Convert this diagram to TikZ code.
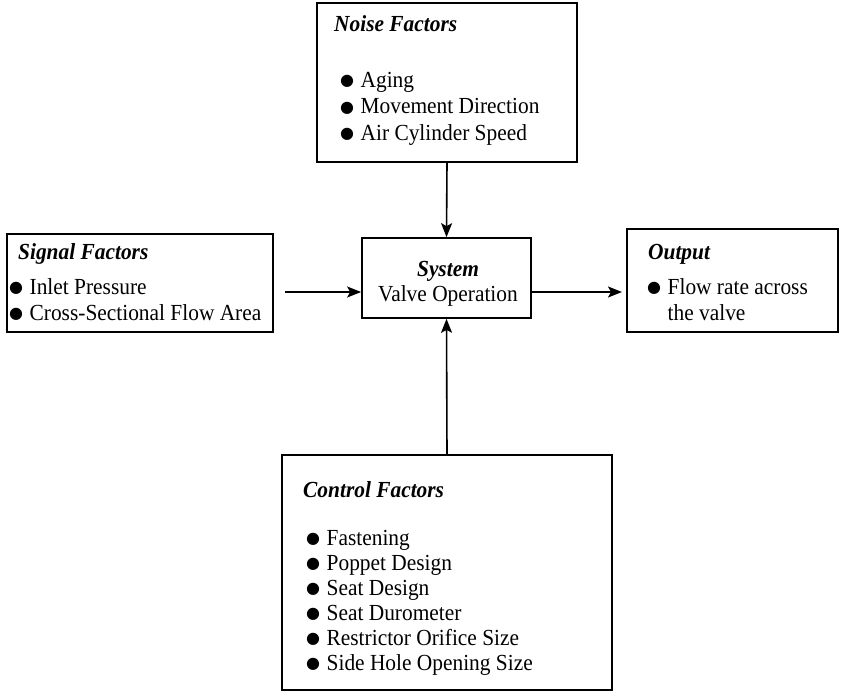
\documentclass[tikz,border=0pt]{standalone}
\usepackage{fontspec}
\setmainfont{Liberation Serif}[FakeStretch=0.93]
\newfontfamily\bulfont{DejaVu Sans}
\usetikzlibrary{arrows.meta}
\newcommand\bul{\raisebox{1.2pt}{\bulfont\fontsize{16}{16}\selectfont ●}\hspace{6.5pt}}
\begin{document}
\begin{tikzpicture}[x=1pt,y=-1pt,
  box/.style={draw, line width=1.7pt, inner sep=0pt},
  txt/.style={anchor=base west, inner sep=0pt, font=\fontsize{23}{27}\selectfont},
  ttl/.style={txt, font=\fontsize{23}{27}\selectfont\bfseries\itshape},
  ctr/.style={anchor=base, inner sep=0pt, font=\fontsize{23}{27}\selectfont},
  arr/.style={line width=1.6pt, -{Stealth[length=14pt,width=11pt,inset=3pt]}}]
\useasboundingbox (0,0) rectangle (844,694);
% boxes
\node[box, minimum width=260pt, minimum height=159pt] (noise) at (447,82.5) {};
\node[box, minimum width=266pt, minimum height=98pt] (signal) at (140,283) {};
\node[box, minimum width=169pt, minimum height=80pt] (system) at (446.5,278) {};
\node[box, minimum width=211pt, minimum height=103pt] (output) at (732.5,280.5) {};
\node[box, minimum width=330pt, minimum height=235pt] (control) at (447,572.5) {};
% noise text
\node[ttl] (nt) at (334,31) {Noise Factors};
\node[txt] (n1) at (340,87) {\bul Aging};
\node[txt] (n2) at (340,113.5) {\bul Movement Direction};
\node[txt] (n3) at (340,140) {\bul Air Cylinder Speed};
% signal text
\node[ttl] (st) at (18,259) {Signal Factors};
\node[txt] (s1) at (9,294) {\bul Inlet Pressure};
\node[txt] (s2) at (9,320) {\bul Cross-Sectional Flow Area};
% system text
\node[ctr, font=\fontsize{23}{27}\selectfont\bfseries\itshape] (yt) at (448,276) {System};
\node[ctr] (y1) at (448,301) {Valve Operation};
% output text
\node[ttl] (ot) at (648,259) {Output};
\node[txt] (o1) at (647,294) {\bul Flow rate across};
\node[txt] (o2) at (647,320) {\phantom{\bul}the valve};
% control text
\node[ttl] (ct) at (303,497) {Control Factors};
\node[txt] (c1) at (306,545) {\bul Fastening};
\node[txt] (c2) at (306,570) {\bul Poppet Design};
\node[txt] (c3) at (306,595) {\bul Seat Design};
\node[txt] (c4) at (306,620) {\bul Seat Durometer};
\node[txt] (c5) at (306,645) {\bul Restrictor Orifice Size};
\node[txt] (c6) at (306,670) {\bul Side Hole Opening Size};
% arrows
\coordinate (sigstart) at (285,292);
\coordinate (outend) at (622,292);
\draw[arr] (noise.south) -- (system.north);
\draw[arr] (control.north) -- (system.south);
\draw[arr] (sigstart) -- (system.west |- sigstart);
\draw[arr] (system.east |- sigstart) -- (outend);
\end{tikzpicture}
\end{document}
